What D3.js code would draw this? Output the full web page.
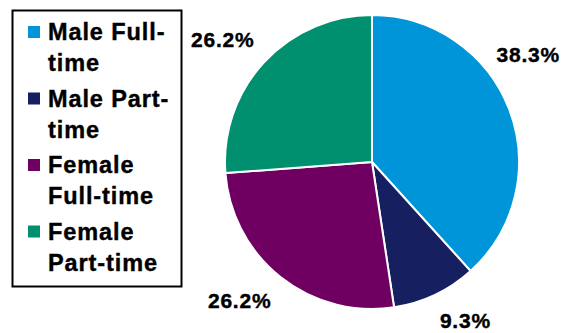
<!DOCTYPE html>
<html>
<head>
<meta charset="utf-8">
<script src="https://cdn.jsdelivr.net/npm/d3@7"></script>
<style>
  html, body { margin: 0; padding: 0; background: #ffffff; }
  svg { display: block; font-family: "Liberation Sans", Arial, sans-serif; }
</style>
</head>
<body>
<svg id="chart" width="580" height="333"></svg>
<script>
// Workforce split by sex and working pattern (share of total, %)
const categories = ["Male Full-time", "Male Part-time", "Female Full-time", "Female Part-time"];
const legendLines = [["Male Full-", "time"], ["Male Part-", "time"], ["Female", "Full-time"], ["Female", "Part-time"]];
const shares = [38.3, 9.3, 26.2, 26.2];
const labels = ["38.3%", "9.3%", "26.2%", "26.2%"];
const colors = ["#0095D8", "#161F5F", "#6F0061", "#00906F"];

const svg = d3.select("#chart");

// Pie geometry
const cx = 372, cy = 162, radius = 147;
const pie = d3.pie().sort(null).value(d => d)(shares);
const arc = d3.arc().innerRadius(0).outerRadius(radius);

const g = svg.append("g").attr("transform", `translate(${cx},${cy})`);

g.selectAll("path.slice")
  .data(pie)
  .join("path")
  .attr("class", "slice")
  .attr("d", arc)
  .attr("fill", (d, i) => colors[i])
  .attr("stroke", "#ffffff")
  .attr("stroke-width", 2)
  .attr("stroke-linejoin", "round");

// Data labels sit outside each slice, shifted a little to clear the rim
const labelArc = d3.arc().innerRadius(190).outerRadius(190);
const labelShift = [[-21, -39], [12, -13], [-14, -10], [-10, 7]];

g.selectAll("text.value")
  .data(pie)
  .join("text")
  .attr("class", "value")
  .attr("x", (d, i) => labelArc.centroid(d)[0] + labelShift[i][0])
  .attr("y", (d, i) => labelArc.centroid(d)[1] + labelShift[i][1])
  .attr("text-anchor", "middle")
  .attr("dy", "0.36em")
  .attr("font-size", 21)
  .attr("font-weight", "bold")
  .attr("letter-spacing", 0.8)
  .attr("fill", "#000000")
  .attr("stroke", "#000000")
  .attr("stroke-width", 0.4)
  .text((d, i) => labels[i]);

// Legend box
const legend = svg.append("g");
legend.append("rect")
  .attr("x", 12.5).attr("y", 10.5)
  .attr("width", 169).attr("height", 276)
  .attr("fill", "#ffffff")
  .attr("stroke", "#000000")
  .attr("stroke-width", 2);

const itemStep = 66.5, lineStep = 31;
const items = legend.selectAll("g.item")
  .data(categories)
  .join("g")
  .attr("class", "item")
  .attr("transform", (d, i) => `translate(0,${40 + i * itemStep})`);

items.append("rect")
  .attr("x", 28).attr("y", -14)
  .attr("width", 12).attr("height", 12)
  .attr("fill", (d, i) => colors[i]);

items.append("text")
  .attr("x", 48)
  .attr("font-size", 23.5)
  .attr("font-weight", "bold")
  .attr("letter-spacing", 0.9)
  .attr("fill", "#000000")
  .attr("stroke", "#000000")
  .attr("stroke-width", 0.4)
  .selectAll("tspan")
  .data((d, i) => legendLines[i])
  .join("tspan")
  .attr("x", 48)
  .attr("y", (d, j) => j * lineStep)
  .text(d => d);
</script>
</body>
</html>
